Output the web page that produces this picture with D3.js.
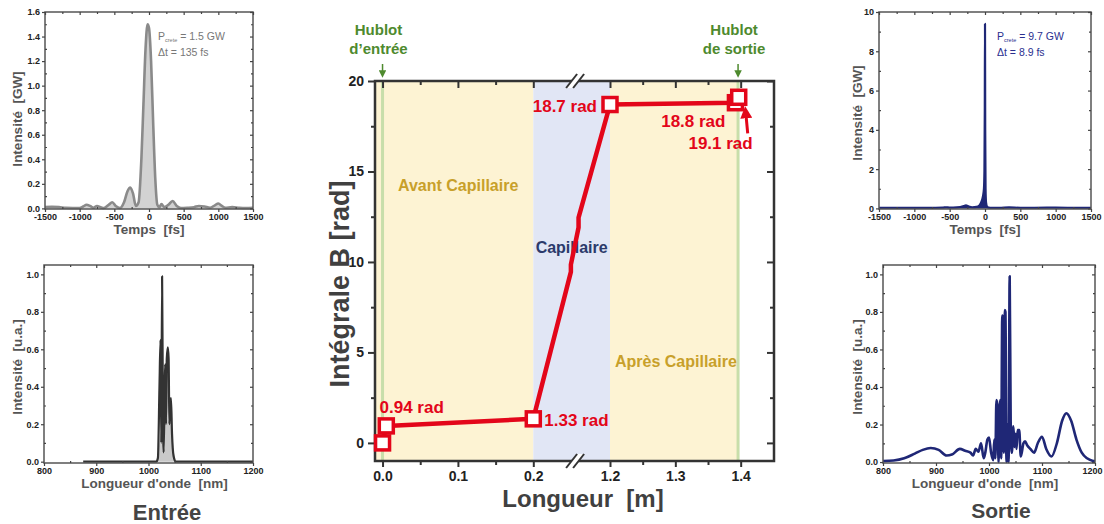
<!DOCTYPE html>
<html><head><meta charset="utf-8">
<script src="https://cdn.jsdelivr.net/npm/d3@7"></script>
<style>
body{margin:0;background:#fff;}
svg{display:block;font-family:"Liberation Sans",Arial,sans-serif;}
text{white-space:pre;}
</style></head><body>
<svg id="c" width="1104" height="524"></svg>
<script>
// ---------- DATA ----------
// Input pulse (temps [fs], intensité [GW])
const pulseInTime  = [-1500,-1400,-1300,-1200,-1000,-950,-900,-850,-800,-750,-700,-650,-580,-530,-480,-420,-360,-310,-270,-230,-190,-150,-110,-80,-50,-20,0,30,60,90,120,150,180,220,280,340,400,460,550,650,720,800,880,950,1000,1050,1100,1200,1300,1400,1500];
const pulseInPower = [0.01,0.012,0.01,0.005,0.003,0.015,0.03,0.02,0.005,0.02,0.01,0.003,0.03,0.05,0.02,0.003,0.05,0.14,0.17,0.12,0.02,0.05,0.4,0.85,1.3,1.5,1.47,1.2,0.7,0.25,0.03,0.01,0.035,0.01,0.03,0.06,0.02,0.003,0.005,0.01,0.02,0.015,0.005,0.025,0.04,0.02,0.005,0.01,0.005,0.003,0.005];
// Input spectrum (nm, u.a.)
const specInWl = [875,1000,1015,1018,1021,1023,1024.5,1026,1027.5,1029,1031,1032,1033.5,1035,1037,1038.5,1040,1041.5,1043,1045,1048,1052,1200];
const specInI  = [0,0,0,0.02,0.4,0.65,0.1,0.99,0.3,0.05,0.4,0.52,0.2,0.55,0.61,0.55,0.2,0.3,0.34,0.15,0.03,0,0];
const specInEnvWl = [1016,1020,1025,1030,1035,1040,1045,1050,1054];
const specInEnvI  = [0,0.08,0.25,0.42,0.5,0.38,0.15,0.03,0];
// Output pulse
const pulseOutTime  = [-1500,-1200,-1000,-800,-600,-550,-500,-400,-300,-270,-230,-180,-120,-80,-50,-30,-15,-8,-3,0,3,8,15,30,50,100,200,340,500,700,1000,1300,1500];
const pulseOutPower = [0.03,0.03,0.03,0.03,0.04,0.06,0.04,0.05,0.12,0.16,0.1,0.06,0.08,0.15,0.35,0.6,1.0,1.9,5.0,9.4,4.0,1.0,0.3,0.08,0.04,0.03,0.03,0.05,0.03,0.03,0.04,0.03,0.03];
// Output spectrum
const specOutWl = [800,820,840,860,875,890,905,920,930,945,955,965,970,975,980,985,990,993,997,1000,1004,1008,1010,1012,1014,1016,1018,1021,1023,1025,1027,1028,1030,1031,1033,1035,1037,1039,1041,1043,1046,1048,1050,1052,1054,1057,1060,1065,1068,1072,1078,1085,1092,1100,1108,1118,1128,1138,1146,1155,1165,1175,1185,1195,1200];
const specOutI  = [0.005,0.008,0.02,0.045,0.065,0.075,0.065,0.035,0.04,0.07,0.06,0.05,0.035,0.07,0.055,0.1,0.02,0.05,0.12,0.13,0.05,0.01,0.12,0.02,0.33,0.3,0.0,0.33,0.02,0.78,0.76,0.05,0.81,0.8,0.0,0.2,0.0,0.99,0.18,0.05,0.19,0.08,0.15,0.07,0.17,0.17,0.03,0.1,0.11,0.09,0.07,0.05,0.1,0.135,0.07,0.03,0.1,0.22,0.26,0.22,0.12,0.05,0.02,0.007,0.005];
// Main chart: B integral along length
const lengthPos = [0,0.005,0.2,0.69,0.69,0.79,0.79,1.2,1.392,1.397];
const bIntegral = [0,0.94,1.33,9.45,9.85,11.9,12.45,18.7,18.8,19.1];
const markerIdx = [0,1,2,7,8,9];
const mainXTicks = [0,0.1,0.2,1.2,1.3,1.4];
const mainXMinor = [0.05,0.15,1.25,1.35];
const mainYTicks = [0,5,10,15,20];
const mainYMinor = [2.5,7.5,12.5,17.5];
const radLabels = ["0.94 rad","1.33 rad","18.7 rad","18.8 rad","19.1 rad"];

const svg = d3.select("#c");
const FONT = '"Liberation Sans",Arial,sans-serif';

// ---------- small panel helper ----------
function panel(o){
  const g = svg.append("g");
  const x = d3.scaleLinear().domain(o.xd).range([o.l,o.r]);
  const y = d3.scaleLinear().domain(o.yd).range([o.b,o.t]);
  const ax = (gen, vals, size, fmt, tr) => {
    const a = g.append("g").attr("transform",tr)
      .call(gen.tickValues(vals).tickSize(size).tickPadding(2).tickFormat(fmt||""));
    a.select(".domain").remove();
    a.selectAll("line").attr("stroke","#444").attr("stroke-width",1.2);
    a.selectAll("text").attr("font-family",FONT).attr("font-size",9).attr("font-weight","bold").attr("fill","#222");
    return a;
  };
  if(o.env){
    g.append("path").datum(o.env[0].map((v,i)=>[v,o.env[1][i]]))
      .attr("d",d3.area().x(d=>x(d[0])).y0(y(0)).y1(d=>y(d[1])).curve(d3.curveMonotoneX))
      .attr("fill",o.fill);
  }
  const pts = o.xs.map((v,i)=>[v,o.ys[i]]);
  if(o.fillUnder){
    g.append("path").datum(pts)
      .attr("d",d3.area().x(d=>x(d[0])).y0(y(0)).y1(d=>y(d[1])).curve(d3.curveMonotoneX))
      .attr("fill",o.fill);
  }
  g.append("path").datum(pts)
    .attr("d",d3.line().x(d=>x(d[0])).y(d=>y(d[1])).curve(d3.curveMonotoneX))
    .attr("fill","none").attr("stroke",o.stroke).attr("stroke-width",o.sw).attr("stroke-linejoin","round");
  g.append("rect").attr("x",o.l).attr("y",o.t).attr("width",o.r-o.l).attr("height",o.b-o.t)
    .attr("fill","none").attr("stroke","#555").attr("stroke-width",1.5);
  const fy = d3.format(o.yfmt);
  ax(d3.axisLeft(y), o.yt, 3, d=>fy(d), `translate(${o.l},0)`);
  ax(d3.axisLeft(y), o.ym, -2, null, `translate(${o.l},0)`);
  ax(d3.axisRight(y), o.yt, -3, null, `translate(${o.r},0)`);
  ax(d3.axisRight(y), o.ym, -2, null, `translate(${o.r},0)`);
  const bx = ax(d3.axisBottom(x), o.xt, 3, d=>String(d), `translate(0,${o.b})`);
  if(o.lastShift) bx.selectAll("text").filter((d,i,n)=>i===n.length-1).attr("dx",o.lastShift);
  ax(d3.axisBottom(x), o.xm, -2, null, `translate(0,${o.b})`);
  ax(d3.axisTop(x), o.xt, -3, null, `translate(0,${o.t})`);
  ax(d3.axisTop(x), o.xm, -2, null, `translate(0,${o.t})`);
  g.append("text").attr("x",(o.l+o.r)/2+o.xtdx).attr("y",o.b+25).attr("text-anchor","middle")
    .attr("font-size",13.5).attr("font-weight","bold").attr("fill","#555").text(o.xtitle);
  g.append("text").attr("transform",`translate(${o.ytx},${o.yty}) rotate(-90)`).attr("text-anchor","middle")
    .attr("font-size",13.5).attr("font-weight","bold").attr("fill","#555").text(o.ytitle);
  return {g,x,y};
}

const tl = panel({l:45,r:253,t:12,b:209,xd:[-1500,1500],yd:[-0.005,1.6],
  xs:pulseInTime,ys:pulseInPower,fillUnder:true,fill:"#d2d2d2",stroke:"#8a8a8a",sw:2.6,
  yt:d3.range(0,1.61,0.2),ym:d3.range(0.1,1.6,0.2),yfmt:".1f",
  xt:d3.range(-1500,1501,500),xm:d3.range(-1250,1500,500),
  xtitle:"Temps  [fs]",xtdx:0,ytitle:"Intensité  [GW]",ytx:22,yty:119});
tl.g.append("text").attr("x",158).attr("y",40).attr("font-size",10.5).attr("fill","#777")
  .html('P<tspan font-size="5.5" dy="2">crete</tspan><tspan dy="-2"> = 1.5 GW</tspan>');
tl.g.append("text").attr("x",158).attr("y",56).attr("font-size",10.5).attr("fill","#777").text("Δt = 135 fs");

const bl = panel({l:44,r:253,t:265,b:463,xd:[800,1200],yd:[-0.007,1.05],
  xs:specInWl,ys:specInI,env:[specInEnvWl,specInEnvI],fill:"#c9c9c9",stroke:"#333",sw:2.2,
  yt:d3.range(0,1.01,0.2),ym:d3.range(0.1,1.0,0.2),yfmt:".1f",
  xt:d3.range(800,1201,100),xm:d3.range(850,1200,100),
  xtitle:"Longueur d'onde  [nm]",xtdx:6,ytitle:"Intensité  [u.a.]",ytx:22,yty:367});
svg.append("text").attr("x",167).attr("y",520).attr("text-anchor","middle").attr("font-size",22)
  .attr("font-weight","bold").attr("fill","#444").text("Entrée");

const tr = panel({l:879,r:1091,t:12,b:209,xd:[-1500,1500],yd:[-0.03,10],
  xs:pulseOutTime,ys:pulseOutPower,fillUnder:true,fill:"#1f2776",stroke:"#1f2776",sw:2.2,
  yt:d3.range(0,10.1,2),ym:d3.range(1,10,2),yfmt:"d",
  xt:d3.range(-1500,1501,500),xm:d3.range(-1250,1500,500),
  xtitle:"Temps  [fs]",xtdx:0,ytitle:"Intensité  [GW]",ytx:862,yty:113});
tr.g.append("text").attr("x",997).attr("y",40).attr("font-size",10.5).attr("fill","#2a2f8f")
  .html('P<tspan font-size="5.5" dy="2">crete</tspan><tspan dy="-2"> = 9.7 GW</tspan>');
tr.g.append("text").attr("x",997).attr("y",56).attr("font-size",10.5).attr("fill","#2a2f8f").text("Δt = 8.9 fs");

const br = panel({l:883,r:1095,t:265,b:463,xd:[800,1200],yd:[-0.005,1.05],
  xs:specOutWl,ys:specOutI,stroke:"#1f2776",sw:2.6,lastShift:-3,
  yt:d3.range(0,1.01,0.2),ym:d3.range(0.1,1.0,0.2),yfmt:".1f",
  xt:d3.range(800,1201,100),xm:d3.range(850,1200,100),
  xtitle:"Longueur d'onde  [nm]",xtdx:-4,ytitle:"Intensité  [u.a.]",ytx:862,yty:367});
svg.append("text").attr("x",1001).attr("y",518).attr("text-anchor","middle").attr("font-size",21)
  .attr("font-weight","bold").attr("fill","#444").text("Sortie");

// ---------- main chart ----------
const L=375,R=774,T=81,B=461;
const x = d3.scaleLinear().domain([-0.01,0.2,1.2,1.451]).range([L,533.3,610,R]);
const y = d3.scaleLinear().domain([-1,20]).range([B,T]);
const m = svg.append("g");
m.append("rect").attr("x",x(-0.01)).attr("y",T).attr("width",x(0.2)-x(-0.01)).attr("height",B-T).attr("fill","#fdf3d3");
m.append("rect").attr("x",x(0.2)).attr("y",T).attr("width",x(1.2)-x(0.2)).attr("height",B-T).attr("fill","#e1e6f5");
m.append("rect").attr("x",x(1.2)).attr("y",T).attr("width",x(1.396)-x(1.2)).attr("height",B-T).attr("fill","#fdf3d3");
[0.0,1.396].forEach(v=>m.append("line").attr("x1",x(v)).attr("x2",x(v)).attr("y1",T).attr("y2",B)
  .attr("stroke","#c8deaa").attr("stroke-width",3));
m.append("text").attr("x",398).attr("y",191).attr("font-size",16).attr("font-weight","bold").attr("fill","#c8a02a").text("Avant Capillaire");
m.append("text").attr("x",(x(0.2)+x(1.2))/2).attr("y",253).attr("text-anchor","middle").attr("font-size",16).attr("font-weight","bold").attr("fill","#2b3a6b").text("Capillaire");
m.append("text").attr("x",615).attr("y",367).attr("font-size",16).attr("font-weight","bold").attr("fill","#c8a02a").text("Après Capillaire");

const axm = (gen, vals, size, fmt, trs, fs) => {
  const a = m.append("g").attr("transform",trs)
    .call(gen.tickValues(vals).tickSize(size).tickPadding(4).tickFormat(fmt||""));
  a.select(".domain").remove();
  a.selectAll("line").attr("stroke","#333").attr("stroke-width",2);
  a.selectAll("text").attr("font-family",FONT).attr("font-size",fs||14).attr("font-weight","bold").attr("fill","#222");
};
axm(d3.axisLeft(y), mainYTicks, 7, d3.format("d"), `translate(${L},0)`, 14);
axm(d3.axisLeft(y), mainYMinor, 4, null, `translate(${L},0)`);
axm(d3.axisRight(y), mainYTicks, -7, null, `translate(${R},0)`);
axm(d3.axisRight(y), mainYMinor, -4, null, `translate(${R},0)`);
axm(d3.axisBottom(x), mainXTicks, 6, d3.format(".1f"), `translate(0,${B})`, 14);
axm(d3.axisBottom(x), mainXMinor, 4, null, `translate(0,${B})`);
axm(d3.axisTop(x), mainXTicks, -7, null, `translate(0,${T})`);
axm(d3.axisTop(x), mainXMinor, -4, null, `translate(0,${T})`);
m.append("rect").attr("x",L).attr("y",T).attr("width",R-L).attr("height",B-T)
  .attr("fill","none").attr("stroke","#333").attr("stroke-width",2.5);
const bx = x(0.745);
[T,B].forEach(yy=>{
  const gb = m.append("g").attr("transform",`translate(${bx},${yy})`);
  gb.append("polygon").attr("points","-9,7 -2,7 9,-7 2,-7").attr("fill","#fff");
  gb.append("line").attr("x1",-9).attr("y1",7).attr("x2",2).attr("y2",-7).attr("stroke","#333").attr("stroke-width",2);
  gb.append("line").attr("x1",-2).attr("y1",7).attr("x2",9).attr("y2",-7).attr("stroke","#333").attr("stroke-width",2);
});
m.append("text").attr("x",583).attr("y",507).attr("text-anchor","middle").attr("font-size",24)
  .attr("font-weight","bold").attr("fill","#404040").text("Longueur  [m]");
m.append("text").attr("transform","translate(349,284) rotate(-90)").attr("text-anchor","middle")
  .attr("font-size",27).attr("font-weight","bold").attr("fill","#404040").text("Intégrale B [rad]");

const pts = lengthPos.map((v,i)=>[v,bIntegral[i]]);
m.append("path").datum(pts).attr("d",d3.line().x(d=>x(d[0])).y(d=>y(d[1])))
  .attr("fill","none").attr("stroke","#e3061a").attr("stroke-width",4.5).attr("stroke-linejoin","round");
m.selectAll("rect.mk").data(markerIdx).join("rect").attr("class","mk")
  .attr("x",i=>x(lengthPos[i])-7).attr("y",i=>y(bIntegral[i])-7).attr("width",14).attr("height",14)
  .attr("fill","#fff").attr("stroke","#e3061a").attr("stroke-width",3.5);
const red="#e3061a";
const lab=(t,xx,yy,anc)=>m.append("text").attr("x",xx).attr("y",yy).attr("text-anchor",anc)
  .attr("font-size",17).attr("font-weight","bold").attr("fill",red).text(t);
lab(radLabels[0], x(0)-3, y(0.94)-13, "start");
lab(radLabels[1], x(0.2)+11, y(1.33)+7, "start");
lab(radLabels[2], x(1.2)-13, y(18.7)+7, "end");
lab(radLabels[3], x(1.392)-10, y(18.8)+24, "end");
lab(radLabels[4], x(1.397)+14, y(19.1)+52, "end");
svg.append("defs").html('<marker id="ar" viewBox="0 0 10 10" refX="5" refY="5" markerWidth="4" markerHeight="4" orient="auto"><path d="M0,0 L10,5 L0,10 z" fill="'+red+'"/></marker><marker id="ag" viewBox="0 0 10 10" refX="5" refY="5" markerWidth="5" markerHeight="5" orient="auto"><path d="M0,0 L10,5 L0,10 z" fill="#4e8a2e"/></marker>');
m.append("line").attr("x1",x(1.397)+9).attr("y1",y(19.1)+36).attr("x2",x(1.397)+7).attr("y2",y(19.1)+15)
  .attr("stroke",red).attr("stroke-width",3).attr("marker-end","url(#ar)");
const green="#4e8a2e";
[[0.0,"Hublot","d’entrée"],[1.396,"Hublot","de sortie"]].forEach(([v,a,b])=>{
  m.append("text").attr("x",x(v)-4).attr("y",35).attr("text-anchor","middle").attr("font-size",15).attr("font-weight","bold").attr("fill",green).text(a);
  m.append("text").attr("x",x(v)-4).attr("y",54).attr("text-anchor","middle").attr("font-size",15).attr("font-weight","bold").attr("fill",green).text(b);
  m.append("line").attr("x1",x(v)).attr("x2",x(v)).attr("y1",64).attr("y2",74).attr("stroke",green).attr("stroke-width",1.5).attr("marker-end","url(#ag)");
});
</script></body></html>
